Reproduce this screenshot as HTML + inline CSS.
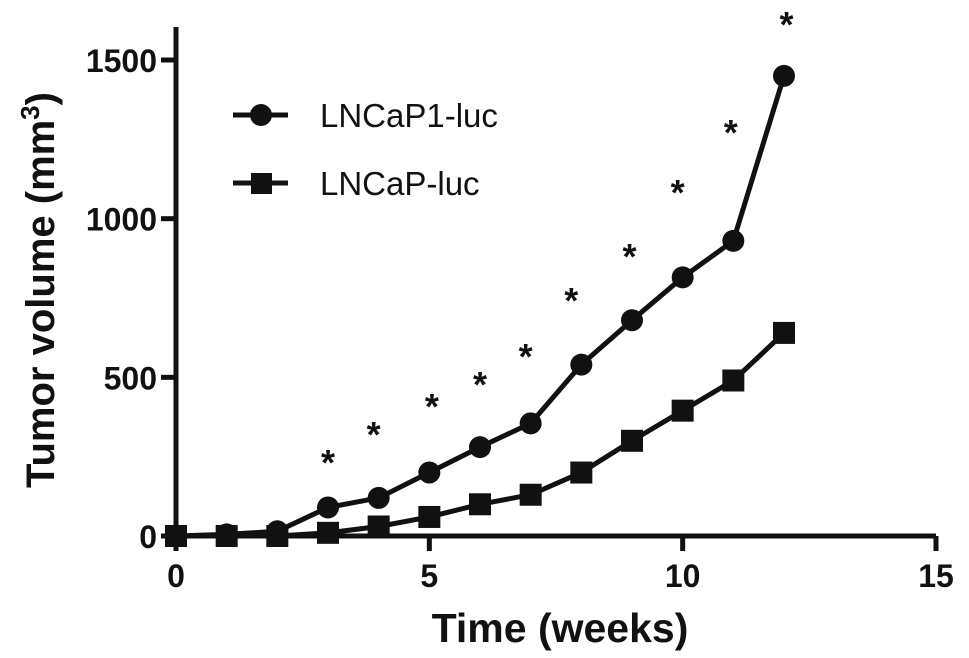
<!DOCTYPE html>
<html><head><meta charset="utf-8"><style>
html,body{margin:0;padding:0;background:#fff;}
svg{display:block;font-family:"Liberation Sans",Arial,sans-serif;}
</style></head><body>
<svg id="chart" width="969" height="658" viewBox="0 0 969 658"></svg>
<script>
const weeks = [0,1,2,3,4,5,6,7,8,9,10,11,12];
const lncap1 = [0,5,15,90,120,200,280,355,540,680,815,930,1450];
const lncap = [0,0,0,10,30,60,100,130,200,300,395,490,640];
const starWeeks = [3,4,5,6,7,8,9,10,11,12];
const starValues = [246,334,422,492,580,756,895,1097,1286,1626];
const starOffsets = [0,-0.1,0.05,0,-0.1,-0.2,-0.05,-0.1,-0.05,0.05];
const xTicks = [0,5,10,15];
const yTicks = [0,500,1000,1500];

const svg = document.getElementById('chart');
const NS = 'http://www.w3.org/2000/svg';
const X0=176, X1=936, Y0=536, Y1=60;
const xs = v => X0 + v/15*(X1-X0);
const ys = v => Y0 - v/1500*(Y0-Y1);
function mk(tag, attrs, parent){const e=document.createElementNS(NS,tag);for(const k in attrs)e.setAttribute(k,attrs[k]);(parent||svg).appendChild(e);return e;}

const ax = mk('g',{});


mk('line',{x1:X0,y1:27,x2:X0,y2:Y0,stroke:'#111','stroke-width':5},ax);
mk('line',{x1:X0,y1:Y0,x2:X1,y2:Y0,stroke:'#111','stroke-width':5},ax);
yTicks.forEach(t=>{
  mk('line',{x1:161,y1:ys(t),x2:X0,y2:ys(t),stroke:'#111','stroke-width':5},ax);
  const tx=mk('text',{x:157,y:ys(t)+12,'text-anchor':'end','font-size':32,'font-weight':'bold',fill:'#111'},ax);
  tx.textContent=t;
  
  
});
xTicks.forEach(t=>{
  mk('line',{x1:xs(t),y1:Y0,x2:xs(t),y2:551,stroke:'#111','stroke-width':5},ax);
  const tx=mk('text',{x:xs(t),y:587,'text-anchor':'middle','font-size':32,'font-weight':'bold',fill:'#111'},ax);
  tx.textContent=t;
  
  
});
const xt=mk('text',{x:560,y:642,'text-anchor':'middle','font-size':41,'font-weight':'bold',fill:'#111'});
xt.textContent='Time (weeks)';


const yt=mk('text',{x:0,y:0,'text-anchor':'middle','font-size':40,'font-weight':'bold',fill:'#111',transform:'translate(54,290) rotate(-90)'});
yt.innerHTML='Tumor volume (mm<tspan font-size="26" dy="-15">3</tspan><tspan dy="15">)</tspan>';



function series(vals,shape,name){
  const g=mk('g',{});
  
  
  mk('polyline',{points:weeks.map((w,i)=>xs(w)+','+ys(vals[i])).join(' '),fill:'none',stroke:'#111','stroke-width':5},g);
  weeks.forEach((w,i)=>{
    let m;
    if(shape==='circle') m=mk('circle',{cx:xs(w),cy:ys(vals[i]),r:11,fill:'#111'},g);
    else m=mk('rect',{x:xs(w)-11,y:ys(vals[i])-11,width:22,height:22,fill:'#111'},g);
    
    
  });
}
series(lncap,'square','series-lncap-luc');
series(lncap1,'circle','series-lncap1-luc');

starWeeks.forEach((w,i)=>{
  const s=mk('text',{x:xs(w+starOffsets[i]),y:ys(starValues[i])+17,'text-anchor':'middle','font-size':36,'font-weight':'bold',fill:'#111'});
  s.textContent='*';
  
  
});

const lg=mk('g',{});


mk('line',{x1:233,y1:115,x2:288,y2:115,stroke:'#111','stroke-width':5},lg);
mk('circle',{cx:261,cy:115,r:11,fill:'#111'},lg);
const l1=mk('text',{x:320,y:127,'font-size':33,fill:'#111'},lg);
l1.textContent='LNCaP1-luc';


mk('line',{x1:233,y1:183,x2:288,y2:183,stroke:'#111','stroke-width':5},lg);
mk('rect',{x:251,y:173,width:21,height:21,fill:'#111'},lg);
const l2=mk('text',{x:320,y:195,'font-size':33,fill:'#111'},lg);
l2.textContent='LNCaP-luc';


</script>
</body></html>
